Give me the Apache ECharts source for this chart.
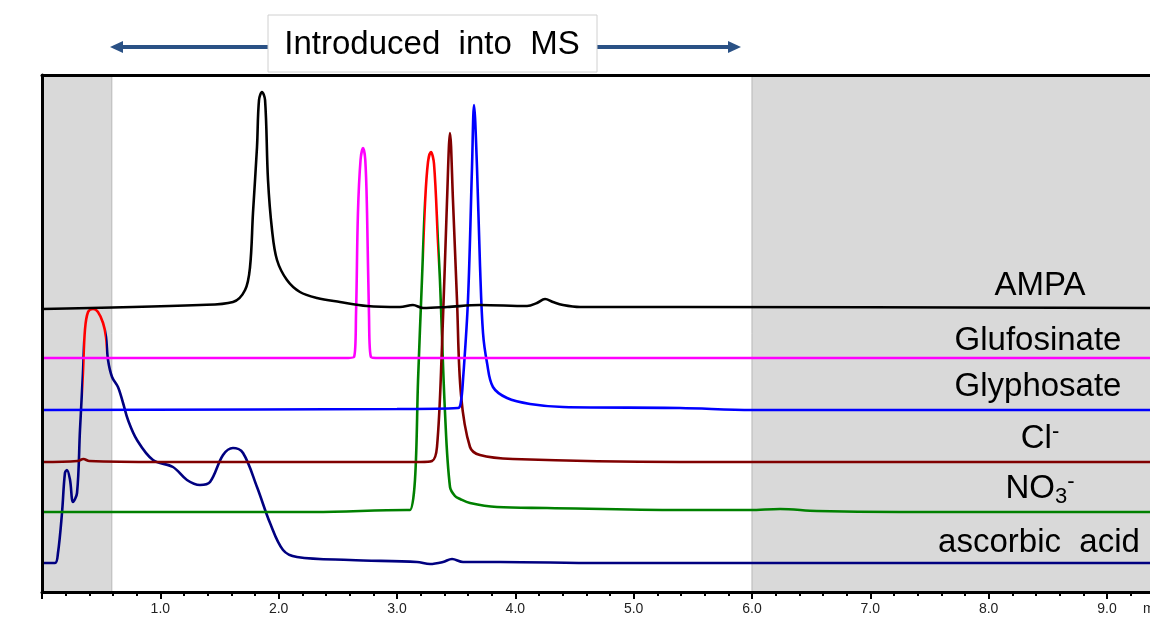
<!DOCTYPE html>
<html>
<head>
<meta charset="utf-8">
<script src="https://cdn.jsdelivr.net/npm/echarts@6/dist/echarts.min.js"></script>
<style>
  html, body { margin: 0; padding: 0; background: #fff; }
  #chart { width: 1150px; height: 621px; }
</style>
</head>
<body>
<div id="chart"></div>
<script>
// retention time (min) vs stacked detector signal (arbitrary, baseline offset per trace)
const ampa = [
  [0, 283], [1.335, 287], [1.614, 290], [1.716, 302], [1.758, 325], [1.783, 379],
  [1.817, 445], [1.834, 492], [1.859, 500], [1.885, 492], [1.91, 412], [1.944, 362],
  [1.986, 332], [2.07, 312], [2.18, 300], [2.324, 294], [2.518, 290], [2.747, 286],
  [3.025, 285], [3.135, 287], [3.22, 284], [3.423, 285], [3.701, 287], [4.099, 286],
  [4.183, 289], [4.251, 293], [4.318, 290], [4.403, 287], [4.547, 285], [5.392, 285],
  [9.5, 284]
];
const glufosinate = [
  [0, 234], [2.55, 234], [2.637, 235], [2.654, 279], [2.67, 379], [2.692, 432],
  [2.713, 444], [2.732, 432], [2.747, 379], [2.763, 279], [2.78, 235], [2.85, 234],
  [9.5, 234]
];
const glyphosate = [
  [0, 182], [3.0, 183], [3.516, 184], [3.54, 190], [3.558, 212], [3.6, 292],
  [3.634, 425], [3.651, 487], [3.676, 425], [3.702, 325], [3.727, 259], [3.761, 229],
  [3.811, 205], [3.93, 194], [4.124, 188], [4.403, 185], [5.392, 184], [6.0, 182],
  [9.5, 182]
];
const chloride = [
  [0, 130], [0.3, 131], [0.35, 133], [0.4, 131], [1.0, 130], [3.2, 130],
  [3.296, 131], [3.338, 145], [3.38, 245], [3.423, 392], [3.448, 459], [3.473, 392],
  [3.507, 292], [3.541, 197], [3.617, 145], [3.701, 137], [3.98, 133], [5.392, 130],
  [9.5, 130]
];
const nitrate = [
  [0, 80], [2.3, 80], [3.08, 82], [3.11, 82], [3.152, 112], [3.178, 212],
  [3.211, 312], [3.237, 389], [3.262, 430], [3.287, 440], [3.313, 428], [3.347, 349],
  [3.363, 312], [3.406, 179], [3.448, 105], [3.49, 96], [3.533, 93], [3.617, 89],
  [3.845, 85], [4.268, 84], [5.392, 82], [5.983, 82], [6.237, 83], [6.549, 81],
  [7.251, 80], [9.5, 80]
];
const ascorbic = [
  [0, 29], [0.11, 29], [0.135, 39], [0.169, 79], [0.194, 119], [0.211, 122],
  [0.237, 112], [0.262, 90], [0.296, 99], [0.321, 162], [0.346, 219], [0.363, 262],
  [0.389, 280], [0.431, 283], [0.473, 280], [0.516, 269], [0.541, 255], [0.558, 232],
  [0.592, 215], [0.642, 205], [0.685, 189], [0.727, 172], [0.803, 152], [0.938, 132],
  [1.107, 125], [1.225, 112], [1.335, 107], [1.42, 110], [1.53, 137], [1.614, 144],
  [1.699, 139], [1.817, 105], [1.927, 69], [2.037, 42], [2.155, 35], [2.603, 32],
  [3.169, 30], [3.279, 28], [3.389, 30], [3.465, 33], [3.558, 30], [3.871, 30],
  [4.716, 29], [9.5, 29]
];

// saturated (red) stretches, in minutes
const ascorbicSat = [0.346, 0.541];
const nitrateSat = [3.228, 3.347];
// eluent diverted away from MS
const divertRanges = [[0, 0.59], [6.0, 9.5]];

const chart_box = document.getElementById("chart");
const chart = echarts.init(chart_box);

const PX_PER_MIN = 118.33;
const X_MAX = 9.5;
const FONT = "Liberation Sans, Arial, sans-serif";

function trace(name, data, color, z, useVisual) {
  const s = {
    name: name,
    type: "line",
    data: data,
    smooth: 0.35,
    showSymbol: false,
    z: z,
    lineStyle: { width: 2.6 },
  };
  // colour comes from visualMap for traces with a saturated stretch
  if (!useVisual) {
    s.lineStyle.color = color;
    s.itemStyle = { color: color };
  }
  return s;
}

const series = [
  trace("ascorbic acid", ascorbic, "#000080", 3, true),
  trace("NO3-", nitrate, "#008000", 4, true),
  trace("Cl-", chloride, "#800000", 5),
  trace("Glyphosate", glyphosate, "#0000ff", 6),
  trace("Glufosinate", glufosinate, "#ff00ff", 7),
  trace("AMPA", ampa, "#000000", 8),
];
series.push({
  name: "divert",
  type: "line",
  data: [],
  z: 1,
  markArea: {
    silent: true,
    itemStyle: { color: "#d9d9d9", borderColor: "#b8b8b8", borderWidth: 1 },
    data: divertRanges.map((r) => [{ xAxis: r[0] }, { xAxis: r[1] }]),
  },
});

const labelStyle = { font: "33px " + FONT, fill: "#000", align: "center", verticalAlign: "middle" };
function label(x, y, text, rich) {
  const style = Object.assign({}, labelStyle, { text: text });
  if (rich) style.rich = rich;
  return { type: "text", x: x, y: y, z: 100, style: style };
}
const supSub = {
  n: { font: "33px " + FONT, fill: "#000" },
  sup: { font: "22px " + FONT, fill: "#000", verticalAlign: "top", padding: [0, 0, 15, 0] },
  sub: { font: "22px " + FONT, fill: "#000", verticalAlign: "bottom", padding: [13, 0, 0, 0] },
};

const frameLine = { lineStyle: { color: "#000", width: 3 } };

chart.setOption({
  backgroundColor: "#fff",
  animation: false,
  grid: { left: 42, top: 75, width: PX_PER_MIN * X_MAX, height: 517,
          outerBoundsMode: "none", containLabel: false },
  xAxis: [
    {
      type: "value",
      min: 0,
      max: X_MAX,
      interval: 1,
      z: 20,
      splitLine: { show: false },
      axisLine: frameLine,
      axisTick: { show: true, length: 7, lineStyle: { color: "#000", width: 2 } },
      minorTick: { show: true, splitNumber: 5, length: 4, lineStyle: { color: "#000", width: 2 } },
      axisLabel: {
        margin: 10,
        color: "#222",
        fontSize: 14,
        fontFamily: FONT,
        showMaxLabel: false,
        formatter: (v) => (v === 0 ? "" : v.toFixed(1)),
      },
    },
    {
      type: "value", position: "top", min: 0, max: X_MAX, z: 20,
      axisLine: frameLine, axisTick: { show: false }, axisLabel: { show: false }, splitLine: { show: false },
    },
  ],
  yAxis: {
    type: "value", min: 0, max: 517, z: 20,
    axisLine: { show: true, lineStyle: { color: "#000", width: 3 } },
    axisTick: { show: false }, axisLabel: { show: false }, splitLine: { show: false },
  },
  visualMap: [
    { show: false, type: "piecewise", seriesIndex: 0, dimension: 0,
      pieces: [{ gte: ascorbicSat[0], lte: ascorbicSat[1], color: "#ff0000" }],
      outOfRange: { color: "#000080" } },
    { show: false, type: "piecewise", seriesIndex: 1, dimension: 0,
      pieces: [{ gte: nitrateSat[0], lte: nitrateSat[1], color: "#ff0000" }],
      outOfRange: { color: "#008000" } },
  ],
  series: series,
  graphic: [
    // "Introduced into MS" bracket
    { type: "line", shape: { x1: 120, y1: 47, x2: 268, y2: 47 }, style: { stroke: "#2a5185", lineWidth: 4 } },
    { type: "polygon", shape: { points: [[110, 47], [123, 41], [123, 53]] }, style: { fill: "#2a5185" } },
    { type: "line", shape: { x1: 597, y1: 47, x2: 730, y2: 47 }, style: { stroke: "#2a5185", lineWidth: 4 } },
    { type: "polygon", shape: { points: [[741, 47], [728, 41], [728, 53]] }, style: { fill: "#2a5185" } },
    { type: "rect", shape: { x: 268, y: 15, width: 329, height: 57 }, style: { fill: "#fff", stroke: "#d0d0d0", lineWidth: 1 } },
    { type: "text", x: 432, y: 45, style: { text: "Introduced  into  MS", font: "33px " + FONT, fill: "#000", align: "center", verticalAlign: "middle" } },
    // trace names
    label(1040, 286, "AMPA"),
    label(1038, 341, "Glufosinate"),
    label(1038, 387, "Glyphosate"),
    label(1040, 439, "{n|Cl}{sup|-}", supSub),
    label(1040, 489, "{n|NO}{sub|3}{sup|-}", supSub),
    label(1039, 543, "ascorbic  acid"),
    { type: "text", x: 1143, y: 609, style: { text: "min", font: "14px " + FONT, fill: "#222", verticalAlign: "middle" } },
  ],
});

window.addEventListener("resize", () => chart.resize());
</script>
</body>
</html>
